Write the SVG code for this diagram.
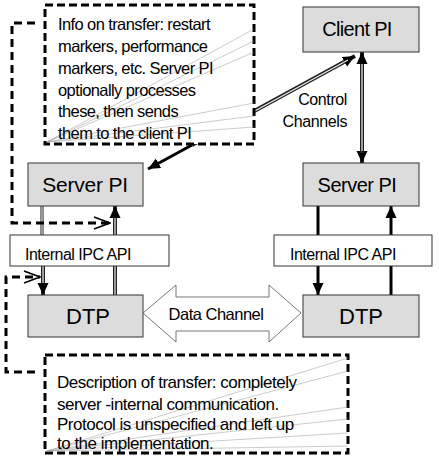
<svg xmlns="http://www.w3.org/2000/svg" width="439" height="468" viewBox="0 0 439 468">
<defs>
<marker id="ah" markerUnits="userSpaceOnUse" markerWidth="12" markerHeight="12" refX="12" refY="6" orient="auto">
<path d="M0,0.5 L12,6 L0,11.5 z" fill="#000"/>
</marker>
<marker id="open" markerUnits="userSpaceOnUse" markerWidth="18" markerHeight="14" refX="17" refY="7" orient="auto">
<path d="M1,1 L17,7 L1,13 M5,2.5 L17,7 L5,11.5" fill="none" stroke="#000" stroke-width="1.5"/>
</marker>
<style>
.box{fill:#dcdcdc;stroke:#333;stroke-width:1}
.ipc{fill:#fff;stroke:#333;stroke-width:1}
.note{fill:#fff;stroke:#000;stroke-width:3;stroke-dasharray:8,4}
.t{font-family:"Liberation Sans",Arial,sans-serif;fill:#000}
.n1{font-size:16.5px;letter-spacing:-0.6px}
.n2{font-size:17px;letter-spacing:-0.5px}
.fan{stroke:#999;stroke-width:0.5;fill:none}
.dl{stroke:#222;stroke-width:4;fill:none}
.dli{stroke:#eee;stroke-width:1.2;fill:none}
.sl{stroke:#000;stroke-width:3;fill:none}
.dash{stroke:#000;stroke-width:3;fill:none;stroke-dasharray:8,5}
</style>
</defs>

<g id="connectors">
<line class="dl" x1="192" y1="145" x2="355" y2="56" marker-end="url(#ah)"/>
<line class="dli" x1="200" y1="141" x2="348" y2="60"/>
<line class="sl" x1="192" y1="145" x2="148" y2="169" marker-end="url(#ah)"/>
<line class="dl" x1="362" y1="62" x2="362" y2="163" marker-end="url(#ah)"/>
<line class="dl" x1="362" y1="153" x2="362" y2="52" marker-end="url(#ah)"/>
<line class="dli" x1="362" y1="64" x2="362" y2="151"/>
<line stroke="#666" stroke-width="3.5" x1="42" y1="206" x2="42" y2="235"/>
<line stroke="#ccc" stroke-width="1" x1="42" y1="206" x2="42" y2="235"/>
<line class="dl" x1="43" y1="266" x2="43" y2="295" marker-end="url(#ah)"/>
<line class="dli" x1="43" y1="266" x2="43" y2="283"/>
<line class="dl" x1="115" y1="295" x2="115" y2="266"/>
<line class="dli" x1="115" y1="295" x2="115" y2="266"/>
<line class="dl" x1="115" y1="235" x2="115" y2="206" marker-end="url(#ah)"/>
<line class="dli" x1="115" y1="235" x2="115" y2="218"/>
<line class="sl" x1="318" y1="206" x2="318" y2="235"/>
<line class="sl" x1="318" y1="266" x2="318" y2="295" marker-end="url(#ah)"/>
<line class="sl" x1="391" y1="295" x2="391" y2="266"/>
<line class="sl" x1="391" y1="235" x2="391" y2="206" marker-end="url(#ah)"/>
<path class="dash" d="M35,23 H12 V223 H110" marker-end="url(#open)"/>
<path class="dash" stroke-width="2.5" d="M35,372 H6 V277 H40" marker-end="url(#open)"/>
</g>

<g id="note-top">
<rect class="note" x="45" y="5" width="209" height="139"/>
<path class="fan" d="M47,142 L254,29 M47,142 L254,41 M47,142 L254,52 M47,142 L254,103 M47,142 L254,116 M47,142 L254,127"/>
<text class="t n1" x="58" y="30">Info on transfer: restart</text>
<text class="t n1" x="58" y="52">markers, performance</text>
<text class="t n1" x="58" y="74">markers, etc. Server PI</text>
<text class="t n1" x="58" y="95.5">optionally processes</text>
<text class="t n1" x="58" y="117">these, then sends</text>
<text class="t n1" x="58" y="139">them to the client PI</text>
</g>

<g id="client-pi">
<rect class="box" x="303" y="7" width="116" height="45"/>
<text class="t" font-size="20" letter-spacing="-0.7" x="357" y="36" text-anchor="middle">Client PI</text>
</g>

<g id="control-label">
<text class="t" font-size="16" letter-spacing="-0.4" x="347" y="105" text-anchor="end">Control</text>
<text class="t" font-size="16" letter-spacing="-0.4" x="347" y="127" text-anchor="end">Channels</text>
</g>

<g id="server-pi-left">
<rect class="box" x="28" y="163" width="115" height="43"/>
<text class="t" font-size="21" letter-spacing="-0.2" x="85" y="192" text-anchor="middle">Server PI</text>
</g>

<g id="server-pi-right">
<rect class="box" x="303" y="163" width="116" height="43"/>
<text class="t" font-size="20" letter-spacing="-0.5" x="357" y="192" text-anchor="middle">Server PI</text>
</g>

<g id="ipc-left">
<rect class="ipc" x="10" y="235" width="159" height="31"/>
<text class="t" font-size="16" letter-spacing="-0.5" x="25" y="260">Internal IPC API</text>
</g>

<g id="ipc-right">
<rect class="ipc" x="274" y="235" width="158" height="31"/>
<text class="t" font-size="16" letter-spacing="-0.5" x="290" y="260">Internal IPC API</text>
</g>

<g id="dtp-left">
<rect class="box" x="28" y="295" width="115" height="42"/>
<text class="t" font-size="22" x="88" y="324" text-anchor="middle">DTP</text>
</g>

<g id="dtp-right">
<rect class="box" x="303" y="295" width="116" height="42"/>
<text class="t" font-size="22" x="361" y="324" text-anchor="middle">DTP</text>
</g>

<g id="data-channel">
<polygon points="143,313 176,285 176,297 269,297 269,285 301,313 269,342 269,331 176,331 176,342" fill="#fff" stroke="#555" stroke-width="0.8"/>
<text class="t" font-size="16.5" letter-spacing="-0.5" x="216" y="320" text-anchor="middle">Data Channel</text>
</g>

<g id="note-bottom">
<rect class="note" x="45" y="355" width="303" height="98"/>
<path class="fan" d="M47,451 L348,358 M47,451 L348,371 M47,451 L348,407 M47,451 L348,419 M47,451 L348,433 M47,451 L348,446"/>
<text class="t n2" x="57" y="388">Description of transfer: completely</text>
<text class="t n2" x="57" y="409.5">server -internal communication.</text>
<text class="t n2" x="57" y="430">Protocol is unspecified and left up</text>
<text class="t n2" x="57" y="449">to the implementation.</text>
</g>
</svg>
